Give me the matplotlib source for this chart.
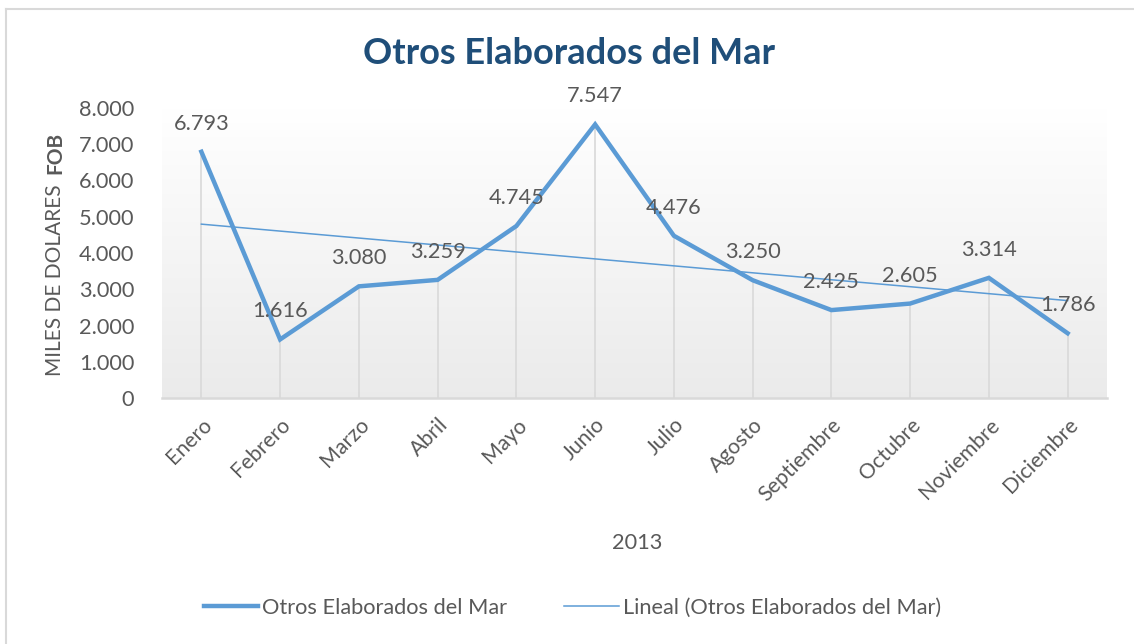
import matplotlib

matplotlib.use("Agg")
import matplotlib.pyplot as plt
import numpy as np
from matplotlib.lines import Line2D

# datos del gráfico
MESES = ["Enero", "Febrero", "Marzo", "Abril", "Mayo", "Junio", "Julio",
         "Agosto", "Septiembre", "Octubre", "Noviembre", "Diciembre"]
VALORES = [6793, 1616, 3080, 3259, 4745, 7547, 4476, 3250, 2425, 2605, 3314, 1786]
ETIQUETAS = ["6.793", "1.616", "3.080", "3.259", "4.745", "7.547", "4.476",
             "3.250", "2.425", "2.605", "3.314", "1.786"]
Y_TICKS = [0, 1000, 2000, 3000, 4000, 5000, 6000, 7000, 8000]
Y_TICKLABELS = ["0", "1.000", "2.000", "3.000", "4.000", "5.000", "6.000", "7.000", "8.000"]

AZUL = "#5B9BD5"
GRIS_TXT = "#595959"
TITULO = "#1F4E79"
FS = 15.7

plt.rcParams["font.family"] = ["Lato", "DejaVu Sans"]

W, H = 1134, 644
fig = plt.figure(figsize=(W / 100, H / 100), dpi=100)


def fx(px):
    return px / W


def fy(py):
    return 1 - py / H


# borde del gráfico (solo arriba e izquierda visibles)
fig.add_artist(Line2D([fx(6), 1], [fy(9), fy(9)], color="#d9d9d9", lw=1.5))
fig.add_artist(Line2D([fx(6), fx(6)], [fy(9), 0], color="#d9d9d9", lw=1.5))

ax = fig.add_axes([fx(162), fy(398), fx(1107) - fx(162), fy(108) - fy(398)])
x = np.arange(len(MESES))

# fondo degradado del área de trazado
grad = np.linspace(1.0, 0.0, 256).reshape(-1, 1)
top_c = np.array([1.0, 1.0, 1.0])
bot_c = np.array([0.92, 0.92, 0.92])
img = top_c * grad[..., None] + bot_c * (1 - grad[..., None])
ax.imshow(img, extent=[-0.5, 11.5, 0, 8000], aspect="auto", zorder=0, origin="upper")

# líneas de caída
ax.vlines(x, 0, VALORES, color="#d9d9d9", lw=1.2, zorder=1)

ax.plot(x, VALORES, color=AZUL, lw=3.2, zorder=3, solid_joinstyle="miter")

# línea de tendencia lineal
coef = np.polyfit(x, VALORES, 1)
ax.plot(x, np.polyval(coef, x), color=AZUL, lw=1.1, zorder=2)

for xi, v, t in zip(x, VALORES, ETIQUETAS):
    ax.annotate(t, (xi, v), xytext=(0, 13), textcoords="offset points",
                ha="center", va="bottom", fontsize=FS, color=GRIS_TXT, zorder=4)

ax.set_xlim(-0.5, 11.5)
ax.set_ylim(0, 8000)
ax.set_yticks(Y_TICKS)
ax.set_yticklabels(Y_TICKLABELS, fontsize=FS, color=GRIS_TXT)
ax.set_xticks(x)
ax.set_xticklabels(MESES, fontsize=15.3, color=GRIS_TXT, rotation=45,
                   ha="right", va="top", rotation_mode="anchor")
ax.tick_params(axis="y", length=0, pad=20)
ax.tick_params(axis="x", length=0, pad=12)
for s in ["top", "right", "left"]:
    ax.spines[s].set_visible(False)
ax.spines["bottom"].set_color("#d9d9d9")
ax.spines["bottom"].set_linewidth(1.8)
ax.spines["bottom"].set_zorder(2)

fig.text(fx(569), fy(53), "Otros Elaborados del Mar", ha="center", va="center",
         fontsize=26, fontweight="bold", color=TITULO)
fig.text(fx(637), fy(543), "2013", ha="center", va="center", fontsize=FS, color=GRIS_TXT)

# etiqueta del eje y: parte normal + "FOB" en negrita, una a continuación de la otra
t1 = fig.text(fx(55), fy(376), "MILES DE DOLARES", rotation=90, ha="center", va="bottom",
              fontsize=15, color=GRIS_TXT)
bb = t1.get_window_extent(fig.canvas.get_renderer())
fig.text(fx(55), (bb.y1 + 10) / H, "FOB", rotation=90, ha="center", va="bottom",
         fontsize=15, fontweight="bold", color=GRIS_TXT)

handles = [Line2D([], [], color=AZUL, lw=3.2),
           Line2D([], [], color=AZUL, lw=1.1)]
fig.legend(handles, ["Otros Elaborados del Mar", "Lineal (Otros Elaborados del Mar)"],
           loc="center left", bbox_to_anchor=(fx(184), fy(608)), ncol=2, frameon=False,
           fontsize=FS, labelcolor=GRIS_TXT, handlelength=2.5, handletextpad=0.2,
           columnspacing=2.6)

fig.savefig("out.png", dpi=100, facecolor="white")
